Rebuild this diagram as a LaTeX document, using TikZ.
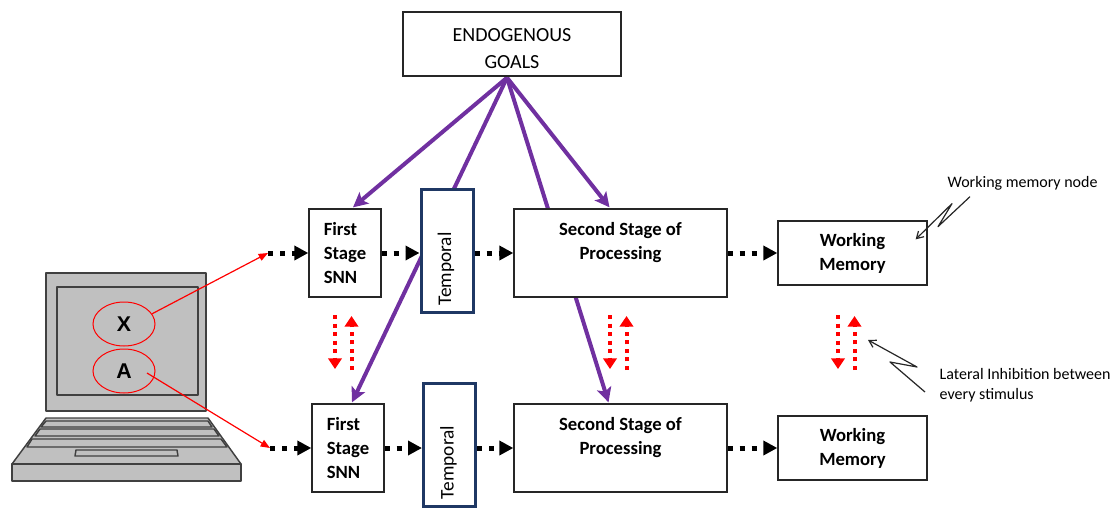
\documentclass[tikz,border=0pt]{standalone}
\usepackage{fontspec}
\setmainfont{Carlito}
\newfontfamily\keyfont{Liberation Sans}
\usetikzlibrary{arrows.meta,calc,backgrounds,positioning,shapes.geometric}

\definecolor{goalpurple}{RGB}{112,48,160}
\definecolor{tempblue}{RGB}{31,56,100}
\definecolor{laptopgray}{RGB}{192,192,192}
\definecolor{laptopedge}{RGB}{64,64,64}

\tikzset{
  box/.style={draw=black!85, line width=1pt, fill=white, inner sep=0pt},
  goalbox/.style={box, minimum width=163.5pt, minimum height=48pt},
  goaltext/.style={align=center, font=\fontsize{15}{20.25}\selectfont},
  snnbox/.style={box, minimum width=54pt, minimum height=66pt, align=left,
    font=\fontsize{14}{18}\selectfont\bfseries},
  tempbox/.style={draw=tempblue, line width=2.25pt, fill=white,
    minimum width=39pt, minimum height=92.25pt},
  templabel/.style={rotate=90, inner sep=0pt, font=\fontsize{14.5}{16}\selectfont},
  stagebox/.style={box, minimum width=159.75pt, minimum height=66pt, align=center,
    font=\fontsize{14}{18}\selectfont\bfseries},
  memorybox/.style={box, minimum width=111.75pt, minimum height=48pt, align=center,
    font=\fontsize{14}{18}\selectfont\bfseries},
  stim/.style={ellipse, draw=red, line width=0.75pt, minimum width=46.5pt,
    minimum height=33pt, inner sep=0pt, font=\keyfont\fontsize{16}{16}\selectfont\bfseries},
  laptop/.style={fill=laptopgray, draw=laptopedge, line width=1.1pt, line join=round},
  flow/.style={line width=3.75pt, dash pattern=on 3.75pt off 5.25pt,
    -{Triangle[length=10.5pt,width=10.5pt]}},
  goalarrow/.style={goalpurple, line width=3pt,
    -{Stealth[length=11pt,width=11pt,inset=2.5pt]}},
  pointer/.style={red, line width=0.9pt, -{Triangle[length=7pt,width=5.5pt]}},
  inhib/.style={red, line width=3pt, dash pattern=on 3pt off 3.4pt,
    -{Triangle[length=8pt,width=10pt]}},
  note/.style={draw=black!85, line width=0.9pt, line join=round,
    -{Straight Barb[length=5pt,width=6pt]}},
  notetext/.style={font=\fontsize{12}{15}\selectfont}
}

\begin{document}
\begin{tikzpicture}[x=0.75pt,y=0.75pt,yscale=-1,xscale=1]
\useasboundingbox (0,0) rectangle (1114,508);

%Shape: Laptop screen
\draw[laptop] (46,273) rectangle (206,411);
\draw[laptop] (57,287) rectangle (198,395);
%Shape: Laptop base
\draw[laptop] (46,418) -- (208,418) -- (241,464) -- (12,464) -- cycle;
\draw[laptop] (12,464) rectangle (241,481);
%Shape: Keys
\draw[laptop] (46,421) -- (208,421) -- (212,427) -- (41,427) -- cycle;
\draw[laptop] (40,429) -- (214,429) -- (219,436) -- (35,436) -- cycle;
\draw[laptop] (32,439) -- (221,439) -- (227,447) -- (27,447) -- cycle;
%Shape: Touchpad
\draw[laptop] (76,450) -- (177,450) -- (178,456) -- (75,456) -- cycle;

% Stimuli on the screen
\node[stim] (xstim) at (124,324) {X};
\node[stim] (astim) at (124,371) {A};

% Goals
\node[goalbox] (goals) at (512,44) {};
\node[goaltext] (goalstext) at (512,48.5) {ENDOGENOUS\\GOALS};

% Upper stream
\node[snnbox] (fs1) at (345,253) {First\\Stage\\SNN};
\node[tempbox] (tp1) at (447,251) {};
\node[templabel] (tp1text) at ($(tp1)+(-1,18)$) {Temporal};
\node[stagebox] (ss1) at (620.5,253) {Second Stage of\\Processing\\\mbox{}};
\node[memorybox] (wm1) at (852.5,253) {Working\\Memory};

% Lower stream
\node[snnbox] (fs2) at (348,448) {First\\Stage\\SNN};
\node[tempbox] (tp2) at (449.5,444.5) {};
\node[templabel] (tp2text) at ($(tp2)+(-1,18)$) {Temporal};
\node[stagebox] (ss2) at (620.5,448) {Second Stage of\\Processing\\\mbox{}};
\node[memorybox] (wm2) at (852.5,448) {Working\\Memory};

\coordinate (in1) at (268,253);
\coordinate (in2) at (270,448);

% Text Node
\node[notetext, anchor=west] (wmnote) at (943,183) {Working memory node};
% Text Node
\node[notetext, anchor=north west, align=left] (latnote) at (935,364) {Lateral Inhibition between\\every stimulus};

% top-down goal signals
\begin{scope}[on background layer]
\draw[goalarrow] ($(goals.south)+(-5,1)$) -- ($(fs1.north)+(8,-1)$);
\draw[goalarrow] ($(goals.south)+(-5,1)$) -- ($(fs2.north)+(4,-1)$);
\draw[goalarrow] ($(goals.south)+(-5,1)$) -- ($(ss1.north)+(-11,-1)$);
\draw[goalarrow] ($(goals.south)+(-5,1)$) -- ($(ss2.north)+(-12,-1)$);
\end{scope}

% stimuli into the streams
\draw[pointer] (xstim.20) -- (in1);
\draw[pointer] ($(astim.center)+(23,2)$) -- (in2);

% feed-forward flow
\draw[flow] (in1) -- (fs1.west);
\draw[flow] (fs1.east) -- (fs1.east -| tp1.west);
\draw[flow] (ss1.west -| tp1.east) -- (ss1.west);
\draw[flow] (ss1.east) -- (wm1.west);
\draw[flow] (in2) -- (fs2.west);
\draw[flow] (fs2.east) -- (fs2.east -| tp2.west);
\draw[flow] (ss2.west -| tp2.east) -- (ss2.west);
\draw[flow] (ss2.east) -- (wm2.west);

% lateral inhibition
\foreach \x in {335,610,838} {
  \draw[inhib] (\x,315) -- (\x,369);
  \draw[inhib] (\x+16.5,370) -- (\x+16.5,316);
}

% annotation pointers
\coordinate (latarrow) at (868,340);
\draw[note] ($(wmnote.south west)+(27,2)$) -- ++(-32,30) -- ++(14,-23) -- ($(wm1.north east)+(-12,19)$);
\draw[note] ($(latnote.north west)+(-10,28)$) -- ++(-35,-30) -- ++(27,5) -- (latarrow);

\end{tikzpicture}
\end{document}
